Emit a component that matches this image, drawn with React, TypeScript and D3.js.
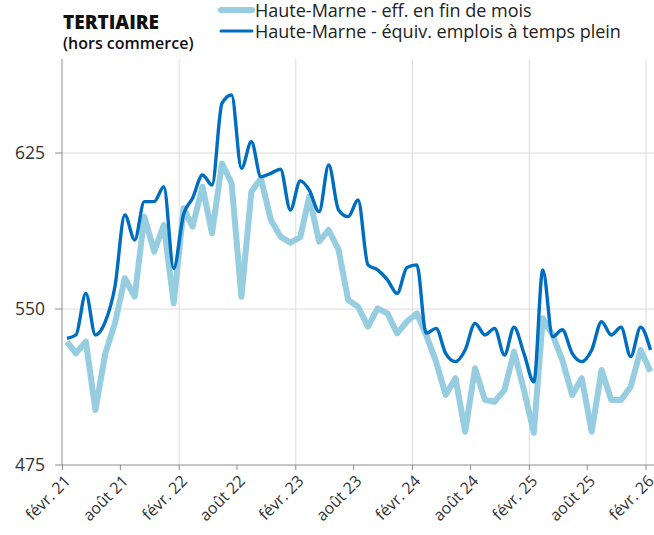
import React from "react";
import * as d3 from "d3";

const startYear = 2021;
const startMonth = 1; // February (0-based)

const effFinMois = [
  534.3, 528.7, 534.3, 501.4, 528.7, 543.1, 564.8, 555.9, 594.4, 577.6, 590.4, 552.7,
  598.4, 589.6, 608.8, 586.4, 620.0, 610.6, 555.9, 606.4, 612.8, 592.8, 584.8, 581.9,
  584.5, 604.0, 582.4, 588.0, 578.4, 554.3, 551.1, 541.5, 550.3, 547.9, 538.3, 544.0,
  547.9, 537.5, 524.7, 508.7, 516.7, 491.0, 521.5, 506.3, 505.4, 511.0, 529.5, 511.0,
  490.5, 545.5, 537.5, 525.5, 508.7, 516.7, 491.0, 520.7, 506.3, 506.3, 512.6, 530.3,
  519.9,
];

const equivTempsPlein = [
  535.9, 537.5, 557.5, 537.5, 543.9, 560.7, 595.2, 583.2, 601.6, 601.6, 608.8, 569.5,
  595.6, 603.2, 614.4, 609.6, 648.9, 652.9, 617.6, 630.4, 613.6, 615.2, 617.2, 597.6,
  611.6, 607.2, 596.8, 619.2, 597.6, 594.4, 602.4, 571.2, 568.8, 564.0, 557.5, 570.0,
  571.2, 538.3, 540.7, 528.7, 524.7, 530.3, 543.1, 537.5, 540.7, 527.9, 541.2, 528.7,
  515.0, 568.8, 536.7, 540.0, 528.7, 524.7, 530.3, 543.9, 537.5, 541.2, 527.1, 541.2,
  530.3,
];

const yTicks = [475, 550, 625];
const monthNames = ["janv.", "févr.", "mars", "avr.", "mai", "juin", "juil.", "août", "sept.", "oct.", "nov.", "déc."];

const seriesLabels = [
  "Haute-Marne - eff. en fin de mois",
  "Haute-Marne - équiv. emplois à temps plein",
];

const W = 654;
const H = 535;
const FONT = "'Open Sans', 'Noto Sans', sans-serif";

export default function App() {
  const dates = effFinMois.map((_, i) => new Date(startYear, startMonth + i, 15));
  const x = d3
    .scaleTime()
    .domain([new Date(2021, 1, 1), new Date(2026, 1, 1)])
    .range([62.5, 646]);
  const y = d3.scaleLinear().domain([475, 670]).range([465, 59.4]);

  const lineLight = d3
    .line<number>()
    .x((_, i) => x(dates[i]))
    .y((d) => y(d))
    .curve(d3.curveLinear);
  const lineDark = d3
    .line<number>()
    .x((_, i) => x(dates[i]))
    .y((d) => y(d))
    .curve(d3.curveMonotoneX);

  const xTicks: Date[] = [];
  for (let k = 0; k <= 10; k++) xTicks.push(new Date(2021, 1 + k * 6, 1));
  const febTicks = xTicks.filter((d) => d.getMonth() === 1 && d.getFullYear() > 2021);

  const top = 59;
  const bottom = 465;
  const left = 62;

  return (
    <svg
      width={W}
      height={H}
      style={{ position: "absolute", left: 0, top: 0, background: "#fff" }}
      fontFamily={FONT}
    >
      <rect x={0} y={0} width={W} height={H} fill="#fff" />
      {/* gridlines */}
      {yTicks
        .filter((t) => t !== 475)
        .map((t) => (
          <line key={"gy" + t} x1={left} x2={W} y1={y(t)} y2={y(t)} stroke="#dcdcdc" strokeWidth={1} />
        ))}
      {febTicks.map((d, i) => (
        <line key={"gx" + i} x1={x(d)} x2={x(d)} y1={top} y2={bottom} stroke="#dcdcdc" strokeWidth={1} />
      ))}
      {/* axes */}
      <line x1={left} x2={left} y1={top} y2={bottom} stroke="#8c8c8c" strokeWidth={1} />
      <line x1={left} x2={W} y1={bottom} y2={bottom} stroke="#8c8c8c" strokeWidth={1} />
      {yTicks.map((t) => (
        <g key={"yt" + t}>
          <line x1={55} x2={left} y1={y(t)} y2={y(t)} stroke="#8c8c8c" />
          <text x={45} y={y(t)} dy="0.36em" textAnchor="end" fontSize={17.5} fill="#333">
            {t}
          </text>
        </g>
      ))}
      {xTicks.map((d, i) => {
        const px = x(d);
        const label = `${monthNames[d.getMonth()]} ${String(d.getFullYear()).slice(2)}`;
        return (
          <g key={"xt" + i}>
            <line x1={px} x2={px} y1={bottom} y2={bottom + 5} stroke="#8c8c8c" />
            <text
              transform={`translate(${px + 9},${bottom + 17}) rotate(-45)`}
              textAnchor="end"
              fontSize={16}
              fill="#333"
            >
              {label}
            </text>
          </g>
        );
      })}
      {/* lines */}
      <path d={lineLight(effFinMois) || ""} fill="none" stroke="#96cde0" strokeWidth={6} strokeLinejoin="round" />
      <path d={lineDark(equivTempsPlein) || ""} fill="none" stroke="#006ec0" strokeWidth={3.4} strokeLinejoin="round" />
      {/* title */}
      <text x={63} y={29} fontSize={19} fontWeight={800} fill="#111">
        TERTIAIRE
      </text>
      <text x={63} y={49} fontSize={16} fontWeight={600} fill="#111">
        (hors commerce)
      </text>
      {/* legend */}
      <line x1={221} x2={252} y1={10} y2={10} stroke="#96cde0" strokeWidth={6} strokeLinecap="round" />
      <text x={255} y={10.5} dy="0.36em" fontSize={18} fill="#222">
        {seriesLabels[0]}
      </text>
      <line x1={221} x2={252} y1={31} y2={31} stroke="#006ec0" strokeWidth={3} strokeLinecap="round" />
      <text x={255} y={31.5} dy="0.36em" fontSize={18} fill="#222">
        {seriesLabels[1]}
      </text>
    </svg>
  );
}
